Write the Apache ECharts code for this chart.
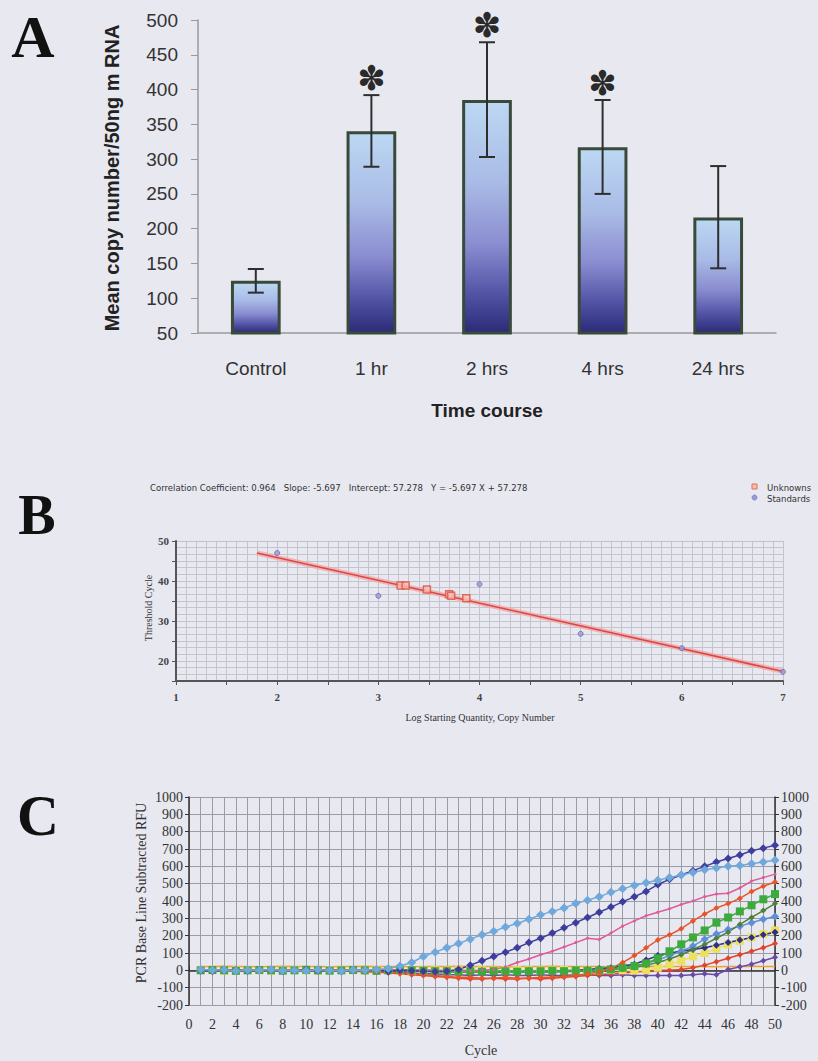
<!DOCTYPE html>
<html><head><meta charset="utf-8">
<script src="https://cdn.jsdelivr.net/npm/echarts@6/dist/echarts.min.js"></script>
<style>html,body{margin:0;padding:0;background:#e8e8f0;} #c{width:818px;height:1061px;}</style>
</head><body><div id="c"></div>
<script>
// ---------- Panel A ----------
const timeCategories = ['Control', '1 hr', '2 hrs', '4 hrs', '24 hrs'];
const meanCopy = [125, 340, 385, 317, 216];
const errHigh = [142, 392, 468, 385, 290];
const errLow = [108, 289, 303, 250, 143];
const significant = ['', '✽', '✽', '✽', ''];

// ---------- Panel B ----------
const standardsB = [[2, 47.0], [3, 36.3], [4, 39.2], [5, 26.8], [6, 23.2], [7, 17.3]];
const unknownsB = [[3.22, 38.9], [3.27, 38.9], [3.48, 37.9], [3.70, 36.7], [3.72, 36.3], [3.87, 35.7]];
const fitLineB = [[1.8, 47.0], [7, 17.4]];
const titleB = 'Correlation Coefficient: 0.964   Slope: -5.697   Intercept: 57.278   Y = -5.697 X + 57.278';

// ---------- Panel C ----------
const cycles = [1,2,3,4,5,6,7,8,9,10,11,12,13,14,15,16,17,18,19,20,21,22,23,24,25,26,27,28,29,30,31,32,33,34,35,36,37,38,39,40,41,42,43,44,45,46,47,48,49,50];
const lightBlue = [5,0,3,-2,2,0,5,-3,0,-2, 3,0,-4,2,0,5,10,25,45,80, 105,130,155,180,205,225,250,270,295,320, 340,360,385,405,425,450,470,490,505,520, 535,550,565,580,590,600,605,615,625,635];
const darkPurple = [0,-5,2,0,-3,0,3,-5,0,2, -3,0,-5,0,-3,2,-5,0,-3,-5, -8,-5,5,30,55,80,105,130,160,185, 215,245,275,305,335,365,395,425,455,495, 525,550,575,600,625,645,665,690,705,722];
const pink = [0,2,-2,0,3,0,-2,0,2,0, -3,0,2,0,-2,0,3,0,-2,0, 2,-3,0,-2,0,5,20,45,65,90, 110,135,160,185,178,215,255,285,315,335, 355,380,400,425,440,445,475,515,535,555];
const orangeRed = [0,-3,2,0,-5,0,3,0,-2,0, 2,-3,0,-5,-5,-8,-10,-15,-20,-25, -30,-35,-40,-40,-45,-45,-40,-45,-45,-40, -40,-35,-30,-20,-10,10,45,85,130,175, 205,240,285,325,360,385,415,455,485,510];
const green = [0,2,0,-3,0,2,0,-2,0,3, 0,-2,0,2,0,-3,0,2,0,-2, -5,-5,-8,-5,-8,-5,-5,-8,-5,-5, -3,-5,0,-3,0,5,15,25,40,70, 110,150,190,230,275,305,340,375,410,440];
const olive = [2,0,-2,0,2,0,-3,0,2,0, -2,0,3,0,-2,0,2,0,-3,0, -5,-8,-10,-8,-10,-12,-10,-8,-10,-8, -10,-8,-5,-5,0,5,10,15,30,45, 65,90,120,150,185,220,265,305,345,385];
const steelBlue = [-2,0,2,0,-2,0,2,0,-2,0, 2,0,-2,0,2,0,-3,0,2,0, -3,-5,-3,-5,-3,-5,-3,-5,-3,-5, -3,-5,-3,-2,0,5,10,25,40,60, 85,110,140,180,210,235,255,275,295,310];
const navy2 = [0,-2,0,2,0,-2,0,2,0,-2, 0,2,0,-2,0,2,0,-2,0,-5, -5,-8,-5,-8,-5,-8,-5,-8,-5,-8, -5,-3,0,5,10,15,25,35,60,85, 100,110,120,130,145,160,175,190,205,220];
const yellow = [3,0,-2,0,3,0,-2,0,3,0, -2,0,3,0,-2,0,3,0,-2,0, 0,-2,0,2,0,-2,0,2,0,-2, 0,2,0,-2,0,2,0,-2,0,15, 35,55,80,100,125,150,170,190,210,230];
const red = [0,2,0,-2,0,2,0,-2,0,2, 0,-2,0,-5,-8,-10,-15,-20,-25,-30, -35,-40,-45,-50,-50,-45,-50,-50,-45,-50, -45,-40,-35,-30,-25,-20,-15,-10,-5,0, 0,5,15,30,50,70,90,110,130,155];
const purpleLow = [0,-2,0,2,0,-2,0,2,0,-2, 0,2,0,-2,0,-5,-8,-10,-15,-20, -20,-25,-25,-30,-25,-30,-25,-30,-30,-25, -30,-30,-25,-25,-30,-30,-25,-30,-30,-30, -30,-30,-25,-20,-25,5,20,35,55,75];
const orangeFlat = [22,22,23,22,22,21,22,23,22,22, 22,21,22,22,23,22,22,22,21,22, 22,22,23,22,22,22,21,22,22,22, 23,22,22,22,22,21,22,22,23,22, 22,22,22,22,21,22,22,23,22,22];

const curvesC = [
  {name:'orangeFlat', data:orangeFlat, color:'#f0a030', symbol:'none', size:0},
  {name:'purpleLow', data:purpleLow, color:'#6a4aa8', symbol:'diamond', size:6},
  {name:'red', data:red, color:'#e0452c', symbol:'diamond', size:6},
  {name:'yellow', data:yellow, color:'#ece060', symbol:'rect', size:8},
  {name:'navy2', data:navy2, color:'#2e2e88', symbol:'diamond', size:7},
  {name:'steelBlue', data:steelBlue, color:'#5e8fd8', symbol:'diamond', size:8},
  {name:'olive', data:olive, color:'#4f7f3a', symbol:'diamond', size:6},
  {name:'green', data:green, color:'#3daa3d', symbol:'rect', size:8},
  {name:'orangeRed', data:orangeRed, color:'#e8552a', symbol:'diamond', size:6},
  {name:'pink', data:pink, color:'#e05a9a', symbol:'circle', size:3},
  {name:'darkPurple', data:darkPurple, color:'#3d3d9e', symbol:'diamond', size:8},
  {name:'lightBlue', data:lightBlue, color:'#70a8dc', symbol:'diamond', size:9}
];

const chart = echarts.init(document.getElementById('c'), null, {renderer:'svg', width:818, height:1061});

const serif = "'Liberation Serif','Times New Roman',serif";
const sans = "'Liberation Sans',Arial,sans-serif";
const narrow = "'Liberation Sans Narrow','Arial Narrow','DejaVu Sans Condensed',sans-serif";

const barGradient = new echarts.graphic.LinearGradient(0, 0, 0, 1, [
  {offset:0, color:'#bcd8f2'},
  {offset:0.35, color:'#a9bbe6'},
  {offset:0.62, color:'#8a8cd0'},
  {offset:0.82, color:'#5656a8'},
  {offset:1, color:'#2a2a78'}
]);

const plain = v => String(v);

const option = {
  backgroundColor:'#e8e8f0',
  animation:false,
  grid:[
    {left:198, right:42, top:20, height:313},
    {left:176, right:35, top:541, height:140},
    {left:189, right:43, top:797, height:208}
  ],
  xAxis:[
    {gridIndex:0, type:'category', data:timeCategories,
     axisLine:{lineStyle:{color:'#9a9a9a', width:1.5}},
     axisTick:{length:8, lineStyle:{color:'#9a9a9a'}},
     axisLabel:{margin:26, fontSize:19, fontFamily:sans, color:'#333'}},
    {gridIndex:1, type:'value', min:1, max:7, interval:0.5,
     axisLine:{lineStyle:{color:'#555', width:2}},
     axisTick:{length:4, lineStyle:{color:'#555'}},
     axisLabel:{margin:10, fontSize:11, fontFamily:serif, color:'#444', fontWeight:'bold',
       formatter:v => Number.isInteger(v) ? String(v) : ''},
     splitLine:{show:true, lineStyle:{color:'#c4c4ce', width:1}},
     minorTick:{show:false, splitNumber:5},
     minorSplitLine:{show:true, lineStyle:{color:'#c4c4ce', width:1}}},
    {gridIndex:2, type:'value', min:0, max:50, interval:1,
     axisLine:{lineStyle:{color:'#333', width:1.5}},
     axisTick:{length:4, inside:true, lineStyle:{color:'#333'}},
     axisLabel:{margin:12, fontSize:14, fontFamily:serif, color:'#333',
       formatter:v => (v % 2 === 0) ? String(v) : ''},
     splitLine:{show:true, lineStyle:{color:'#9c9ca6', width:1}}}
  ],
  yAxis:[
    {gridIndex:0, type:'value', min:50, max:500, interval:50,
     axisLine:{show:true, lineStyle:{color:'#9a9a9a', width:1.5}},
     axisTick:{show:true, length:7, lineStyle:{color:'#9a9a9a'}},
     axisLabel:{margin:20, fontSize:19, fontFamily:sans, color:'#333', formatter:plain},
     splitLine:{show:false}},
    {gridIndex:1, type:'value', min:15, max:50, interval:5,
     axisLine:{show:true, lineStyle:{color:'#555', width:2}},
     axisTick:{show:true, length:4, lineStyle:{color:'#555'}},
     axisLabel:{margin:7, fontSize:11, fontFamily:serif, color:'#444', fontWeight:'bold',
       formatter:v => (v % 10 === 0) ? String(v) : ''},
     splitLine:{show:true, lineStyle:{color:'#c4c4ce', width:1}},
     minorTick:{show:false, splitNumber:3},
     minorSplitLine:{show:true, lineStyle:{color:'#c4c4ce', width:1}}},
    {gridIndex:2, type:'value', min:-200, max:1000, interval:100, position:'left',
     axisLine:{show:true, lineStyle:{color:'#333', width:1.5}},
     axisTick:{show:true, length:4, lineStyle:{color:'#333'}},
     axisLabel:{margin:6, fontSize:14, fontFamily:serif, color:'#333', formatter:plain},
     splitLine:{show:true, lineStyle:{color:'#9c9ca6', width:1}}},
    {gridIndex:2, type:'value', min:-200, max:1000, interval:100, position:'right',
     axisLine:{show:true, lineStyle:{color:'#333', width:1.5}},
     axisTick:{show:true, length:4, lineStyle:{color:'#333'}},
     axisLabel:{margin:6, fontSize:14, fontFamily:serif, color:'#333', formatter:plain},
     splitLine:{show:false}}
  ],
  series:[
    {type:'bar', xAxisIndex:0, yAxisIndex:0, data:meanCopy, barWidth:'43%',
     itemStyle:{color:barGradient, borderColor:'#3a4a3a', borderWidth:3}},
    {type:'custom', xAxisIndex:0, yAxisIndex:0,
     data: timeCategories.map((c, i) => [i, errLow[i], errHigh[i]]),
     renderItem:(params, api) => {
       const x = api.value(0);
       const lo = api.coord([x, api.value(1)]);
       const hi = api.coord([x, api.value(2)]);
       const half = 8;
       const st = {stroke:'#2e2e2e', lineWidth:2};
       const children = [
         {type:'line', shape:{x1:hi[0], y1:hi[1], x2:lo[0], y2:lo[1]}, style:st},
         {type:'line', shape:{x1:hi[0]-half, y1:hi[1], x2:hi[0]+half, y2:hi[1]}, style:st},
         {type:'line', shape:{x1:lo[0]-half, y1:lo[1], x2:lo[0]+half, y2:lo[1]}, style:st}
       ];
       const mark = significant[params.dataIndex];
       if (mark) {
         children.push({type:'text', x:hi[0], y:hi[1]-17,
           style:{text:mark, fill:'#2a2a2a', font:"34px 'DejaVu Sans'", align:'center', verticalAlign:'middle'}});
       }
       return {type:'group', children};
     }, z:5},
    // Panel B
    {type:'line', xAxisIndex:1, yAxisIndex:1, data:fitLineB, symbol:'none',
     lineStyle:{color:'#f2a8a8', width:5, opacity:0.8}, z:2},
    {type:'line', xAxisIndex:1, yAxisIndex:1, data:fitLineB, symbol:'none',
     lineStyle:{color:'#d84848', width:1.5}, z:3},
    {type:'scatter', xAxisIndex:1, yAxisIndex:1, data:standardsB, symbol:'circle', symbolSize:5,
     itemStyle:{color:'#9a9ad8', borderColor:'#6a6ab0', borderWidth:1}, z:4},
    {type:'scatter', xAxisIndex:1, yAxisIndex:1, data:unknownsB, symbol:'rect', symbolSize:7,
     itemStyle:{color:'#f3c0b8', borderColor:'#e05040', borderWidth:1.5}, z:4},
    // Panel C
    ...curvesC.map(s => ({
      type:'line', xAxisIndex:2, yAxisIndex:2, name:s.name,
      data: cycles.map((c, i) => [c, s.data[i]]),
      symbol:s.symbol, symbolSize:s.size, showSymbol:s.symbol !== 'none',
      lineStyle:{color:s.color, width:1.5}, itemStyle:{color:s.color}
    }))
  ],
  graphic:[
    {type:'text', x:33, y:37, style:{text:'A', font:"bold 60px 'Liberation Serif'", fill:'#111', align:'center', verticalAlign:'middle'}},
    {type:'text', x:37, y:515, style:{text:'B', font:"bold 56px 'Liberation Serif'", fill:'#111', align:'center', verticalAlign:'middle'}},
    {type:'text', x:38, y:815, style:{text:'C', font:"bold 58px 'Liberation Serif'", fill:'#111', align:'center', verticalAlign:'middle'}},
    {type:'text', x:112, y:178, rotation:Math.PI/2, style:{text:'Mean copy number/50ng m RNA', font:"bold 20px 'Liberation Sans'", fill:'#222', align:'center', verticalAlign:'middle'}},
    {type:'text', x:487, y:410, style:{text:'Time course', font:"bold 19px 'Liberation Sans'", fill:'#222', align:'center', verticalAlign:'middle'}},
    {type:'text', x:150, y:487, style:{text:titleB, font:"9.5px " + narrow, fill:'#333', align:'left', verticalAlign:'middle'}},
    {type:'rect', shape:{x:752, y:484, width:5, height:5}, style:{fill:'#f3c0b8', stroke:'#e07050', lineWidth:1}},
    {type:'circle', shape:{cx:754.5, cy:497.5, r:2.5}, style:{fill:'#9a9ad8', stroke:'#7a7ac0', lineWidth:0.8}},
    {type:'text', x:767, y:487, style:{text:'Unknowns', font:"9.5px " + narrow, fill:'#333', align:'left', verticalAlign:'middle'}},
    {type:'text', x:767, y:498, style:{text:'Standards', font:"9.5px " + narrow, fill:'#333', align:'left', verticalAlign:'middle'}},
    {type:'text', x:148, y:608, rotation:Math.PI/2, style:{text:'Threshold Cycle', font:"10px " + serif, fill:'#333', align:'center', verticalAlign:'middle'}},
    {type:'text', x:480, y:717, style:{text:'Log Starting Quantity, Copy Number', font:"10px " + serif, fill:'#333', align:'center', verticalAlign:'middle'}},
    {type:'text', x:141, y:893, rotation:Math.PI/2, style:{text:'PCR Base Line Subtracted RFU', font:"14px " + serif, fill:'#333', align:'center', verticalAlign:'middle'}},
    {type:'text', x:481, y:1050, style:{text:'Cycle', font:"14px " + serif, fill:'#333', align:'center', verticalAlign:'middle'}}
  ]
};
chart.setOption(option);
</script>
</body></html>
